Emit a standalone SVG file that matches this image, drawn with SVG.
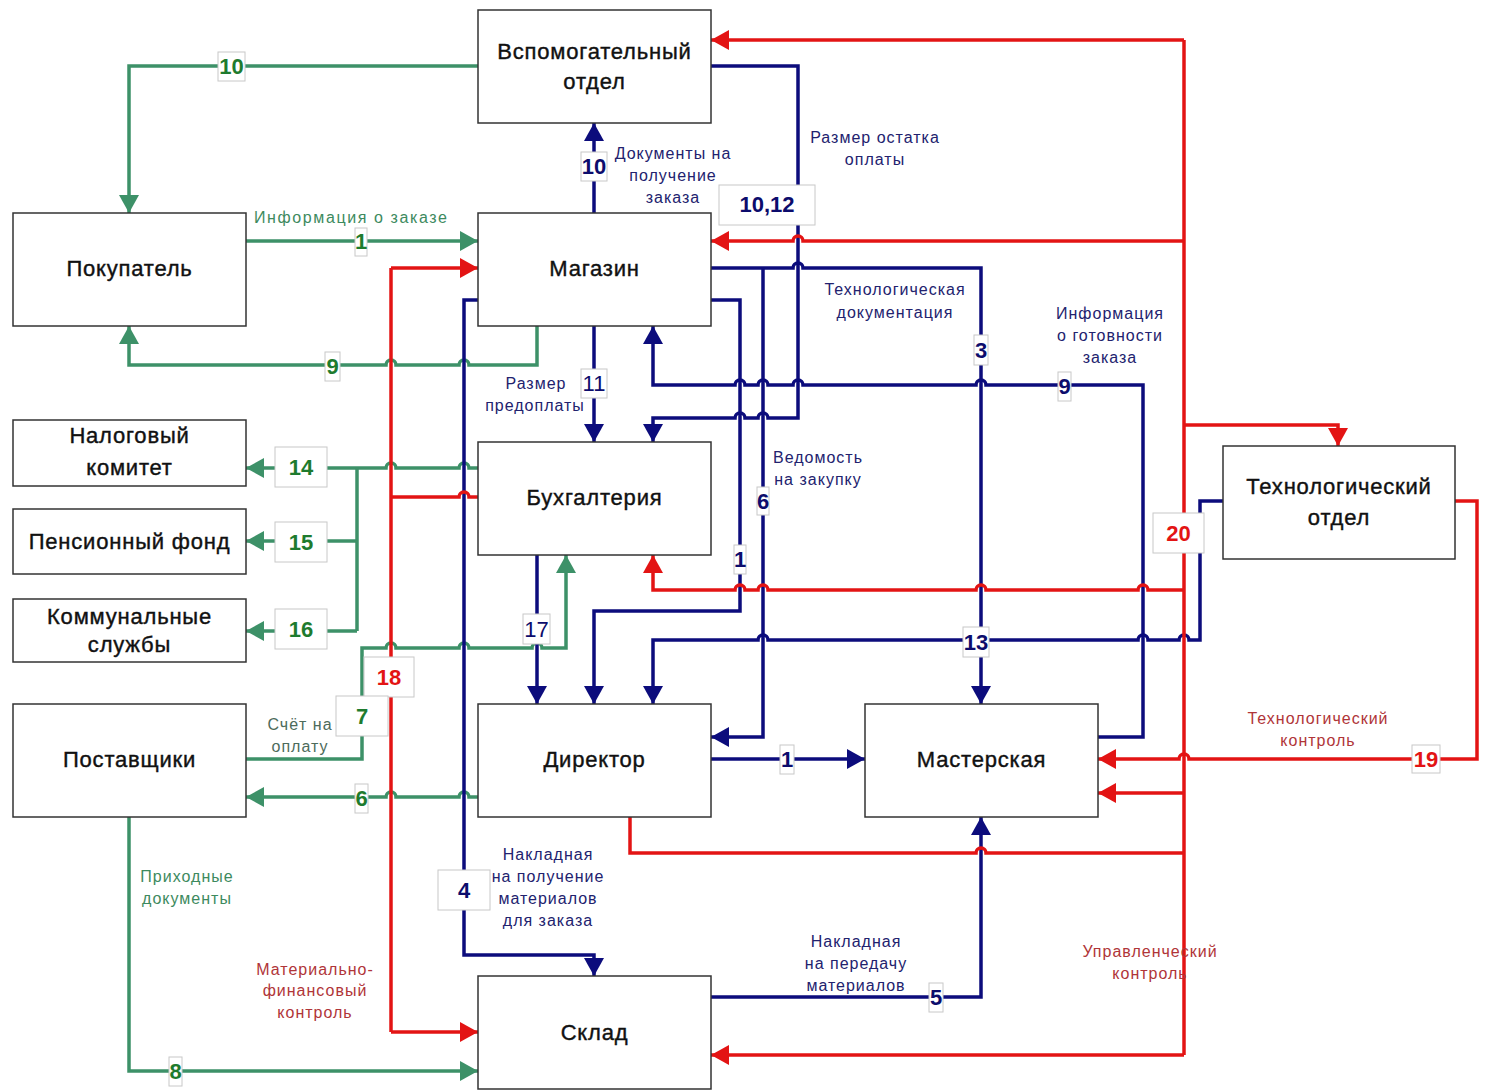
<svg xmlns="http://www.w3.org/2000/svg" width="1486" height="1091" viewBox="0 0 1486 1091">
<style>
.node rect{fill:#fff;stroke:#333;stroke-width:1.5}
.nt{font-family:"Liberation Sans",Arial,sans-serif;font-size:22px;fill:#111;stroke:#111;stroke-width:0.4;text-anchor:middle;letter-spacing:0.8px}
.g{fill:none;stroke:#3d9168;stroke-width:3.5}
.n{fill:none;stroke:#0c0c7c;stroke-width:3.5}
.r{fill:none;stroke:#e31414;stroke-width:3.5}
.lb{fill:#fff;stroke:#c8c8c8;stroke-width:1}
.num{font-family:"Liberation Sans",Arial,sans-serif;font-size:22px;font-weight:bold;text-anchor:middle}
.reg{font-weight:normal}
.ng{fill:#1e7b2e}.nn{fill:#0c0c6c}.nr{fill:#e31414}
.et{font-family:"Liberation Sans",Arial,sans-serif;font-size:16px;text-anchor:middle;letter-spacing:1px}
.etn{fill:#22226e}.etg{fill:#3d8a5e}.etr{fill:#b03538}.ets{fill:#4d6b5b}
</style>
<defs>
<marker id="ag" markerUnits="userSpaceOnUse" markerWidth="18" markerHeight="20" refX="18" refY="10" orient="auto"><path d="M0,0 L18,10 L0,20 z" fill="#3d9168"/></marker>
<marker id="an" markerUnits="userSpaceOnUse" markerWidth="18" markerHeight="20" refX="18" refY="10" orient="auto"><path d="M0,0 L18,10 L0,20 z" fill="#0c0c7c"/></marker>
<marker id="ar" markerUnits="userSpaceOnUse" markerWidth="18" markerHeight="20" refX="18" refY="10" orient="auto"><path d="M0,0 L18,10 L0,20 z" fill="#e31414"/></marker>
</defs>

<g id="connectors">
<!-- green -->
<path class="g" d="M478,66 H129 V213" marker-end="url(#ag)"/>
<path class="g" d="M246,241 H478" marker-end="url(#ag)"/>
<path class="g" d="M537,326 V365 H469 A5,5 0 0 0 459,365 H396 A5,5 0 0 0 386,365 H129 V326" marker-end="url(#ag)"/>
<path class="g" d="M478,468 H469 A5,5 0 0 0 459,468 H396 A5,5 0 0 0 386,468 H246" marker-end="url(#ag)"/>
<path class="g" d="M357,468 V631"/>
<path class="g" d="M357,541 H246" marker-end="url(#ag)"/>
<path class="g" d="M357,631 H246" marker-end="url(#ag)"/>
<path class="g" d="M246,759 H362 V648 H386 A5,5 0 0 1 396,648 H459 A5,5 0 0 1 469,648 H532 A5,5 0 0 1 542,648 H566 V555" marker-end="url(#ag)"/>
<path class="g" d="M478,797 H469 A5,5 0 0 0 459,797 H396 A5,5 0 0 0 386,797 H246" marker-end="url(#ag)"/>
<path class="g" d="M129,817 V1071 H478" marker-end="url(#ag)"/>
<!-- navy -->
<path class="n" d="M594,213 V123" marker-end="url(#an)"/>
<path class="n" d="M711,66 H798 V418 H768 A5,5 0 0 0 758,418 H745 A5,5 0 0 0 735,418 H653 V442" marker-end="url(#an)"/>
<path class="n" d="M594,326 V442" marker-end="url(#an)"/>
<path class="n" d="M711,268 H793 A5,5 0 0 1 803,268 H981 V704" marker-end="url(#an)"/>
<path class="n" d="M711,300 H740 V611 H594 V704" marker-end="url(#an)"/>
<path class="n" d="M763,268 V737 H711" marker-end="url(#an)"/>
<path class="n" d="M1098,737 H1143 V385 H986 A5,5 0 0 0 976,385 H803 A5,5 0 0 0 793,385 H768 A5,5 0 0 0 758,385 H745 A5,5 0 0 0 735,385 H653 V326" marker-end="url(#an)"/>
<path class="n" d="M537,555 V704" marker-end="url(#an)"/>
<path class="n" d="M478,300 H464 V955 H594 V976" marker-end="url(#an)"/>
<path class="n" d="M711,997 H981 V817" marker-end="url(#an)"/>
<path class="n" d="M711,759 H865" marker-end="url(#an)"/>
<path class="n" d="M1223,501 H1200 V640 H1189 A5,5 0 0 0 1179,640 H1148 A5,5 0 0 0 1138,640 H768 A5,5 0 0 0 758,640 H653 V704" marker-end="url(#an)"/>
<!-- red -->
<path class="r" d="M1184,40 V1055"/>
<path class="r" d="M1184,40 H711" marker-end="url(#ar)"/>
<path class="r" d="M1184,241 H803 A5,5 0 0 0 793,241 H711" marker-end="url(#ar)"/>
<path class="r" d="M1184,425 H1338 V446" marker-end="url(#ar)"/>
<path class="r" d="M1184,590 H1148 A5,5 0 0 0 1138,590 H986 A5,5 0 0 0 976,590 H768 A5,5 0 0 0 758,590 H745 A5,5 0 0 0 735,590 H653 V555" marker-end="url(#ar)"/>
<path class="r" d="M1455,501 H1477 V759 H1189 A5,5 0 0 0 1179,759 H1098" marker-end="url(#ar)"/>
<path class="r" d="M630,817 V853 H976 A5,5 0 0 1 986,853 H1184"/>
<path class="r" d="M1184,793 H1098" marker-end="url(#ar)"/>
<path class="r" d="M1184,1055 H711" marker-end="url(#ar)"/>
<path class="r" d="M391,268 V1032"/>
<path class="r" d="M391,268 H478" marker-end="url(#ar)"/>
<path class="r" d="M391,497 H459 A5,5 0 0 1 469,497 H478"/>
<path class="r" d="M391,1032 H478" marker-end="url(#ar)"/>

<!-- label boxes -->
<rect class="lb" x="218" y="52" width="27" height="29"/>
<rect class="lb" x="355" y="228" width="12" height="28"/>
<rect class="lb" x="325" y="352" width="15" height="29"/>
<rect class="lb" x="275" y="447" width="52" height="40"/>
<rect class="lb" x="275" y="522" width="52" height="40"/>
<rect class="lb" x="275" y="609" width="52" height="40"/>
<rect class="lb" x="364" y="657" width="50" height="40"/>
<rect class="lb" x="336" y="696" width="52" height="40"/>
<rect class="lb" x="355" y="784" width="13" height="29"/>
<rect class="lb" x="169" y="1057" width="13" height="29"/>
<rect class="lb" x="581" y="152" width="26" height="29"/>
<rect class="lb" x="719" y="185" width="96" height="40"/>
<rect class="lb" x="581" y="369" width="26" height="29"/>
<rect class="lb" x="974" y="335" width="14" height="30"/>
<rect class="lb" x="1058" y="372" width="13" height="29"/>
<rect class="lb" x="757" y="487" width="12" height="28"/>
<rect class="lb" x="734" y="545" width="12" height="29"/>
<rect class="lb" x="523" y="614" width="27" height="30"/>
<rect class="lb" x="963" y="627" width="26" height="30"/>
<rect class="lb" x="1153" y="513" width="51" height="40"/>
<rect class="lb" x="780" y="745" width="14" height="29"/>
<rect class="lb" x="1412" y="745" width="28" height="28"/>
<rect class="lb" x="438" y="870" width="52" height="40"/>
<rect class="lb" x="929" y="983" width="14" height="29"/>

<!-- numbers -->
<text class="num ng" x="231.5" y="74">10</text>
<text class="num ng" x="361" y="249">1</text>
<text class="num ng" x="332.5" y="374">9</text>
<text class="num ng" x="301" y="475">14</text>
<text class="num ng" x="301" y="550">15</text>
<text class="num ng" x="301" y="637">16</text>
<text class="num nr" x="389" y="685">18</text>
<text class="num ng" x="362" y="724">7</text>
<text class="num ng" x="361.5" y="806">6</text>
<text class="num ng" x="175.5" y="1079">8</text>
<text class="num nn" x="594" y="174">10</text>
<text class="num nn" x="767" y="212">10,12</text>
<text class="num nn reg" x="594" y="391">11</text>
<text class="num nn" x="981" y="358">3</text>
<text class="num nn" x="1064.5" y="394">9</text>
<text class="num nn" x="763" y="509">6</text>
<text class="num nn" x="740" y="567">1</text>
<text class="num nn reg" x="536.5" y="637">17</text>
<text class="num nn" x="976" y="650">13</text>
<text class="num nr" x="1178.5" y="541">20</text>
<text class="num nn" x="787" y="767">1</text>
<text class="num nr" x="1426" y="767">19</text>
<text class="num nn" x="464" y="898">4</text>
<text class="num nn" x="936" y="1005">5</text>

<!-- edge texts -->
<text class="et etg" x="254" y="223" style="text-anchor:start;letter-spacing:1.6px">Информация о заказе</text>
<text class="et etn"><tspan x="673" y="159">Документы на</tspan><tspan x="673" y="181">получение</tspan><tspan x="673" y="203">заказа</tspan></text>
<text class="et etn"><tspan x="875" y="143">Размер остатка</tspan><tspan x="875" y="165">оплаты</tspan></text>
<text class="et etn"><tspan x="895" y="295">Технологическая</tspan><tspan x="895" y="318">документация</tspan></text>
<text class="et etn"><tspan x="1110" y="319">Информация</tspan><tspan x="1110" y="341">о готовности</tspan><tspan x="1110" y="363">заказа</tspan></text>
<text class="et etn"><tspan x="536" y="389">Размер</tspan><tspan x="535" y="411">предоплаты</tspan></text>
<text class="et etn"><tspan x="818" y="463">Ведомость</tspan><tspan x="818" y="485">на закупку</tspan></text>
<text class="et ets"><tspan x="300" y="730">Счёт на</tspan><tspan x="300" y="752">оплату</tspan></text>
<text class="et etr"><tspan x="1318" y="724">Технологический</tspan><tspan x="1318" y="746">контроль</tspan></text>
<text class="et etn"><tspan x="548" y="860">Накладная</tspan><tspan x="548" y="882">на получение</tspan><tspan x="548" y="904">материалов</tspan><tspan x="548" y="926">для заказа</tspan></text>
<text class="et etg"><tspan x="187" y="882">Приходные</tspan><tspan x="187" y="904">документы</tspan></text>
<text class="et etn"><tspan x="856" y="947">Накладная</tspan><tspan x="856" y="969">на передачу</tspan><tspan x="856" y="991">материалов</tspan></text>
<text class="et etr"><tspan x="1150" y="957">Управленческий</tspan><tspan x="1150" y="979">контроль</tspan></text>
<text class="et etr"><tspan x="315" y="975">Материально-</tspan><tspan x="315" y="996">финансовый</tspan><tspan x="315" y="1018">контроль</tspan></text>
</g>

<g id="node-vspom" class="node"><rect x="478" y="10" width="233" height="113"/><text class="nt"><tspan x="594.5" y="59">Вспомогательный</tspan><tspan x="594.5" y="89">отдел</tspan></text></g>
<g id="node-pokupatel" class="node"><rect x="13" y="213" width="233" height="113"/><text class="nt" x="129.5" y="276">Покупатель</text></g>
<g id="node-magazin" class="node"><rect x="478" y="213" width="233" height="113"/><text class="nt" x="594.5" y="276">Магазин</text></g>
<g id="node-nalog" class="node"><rect x="13" y="420" width="233" height="66"/><text class="nt"><tspan x="129.5" y="443">Налоговый</tspan><tspan x="129.5" y="475">комитет</tspan></text></g>
<g id="node-buh" class="node"><rect x="478" y="442" width="233" height="113"/><text class="nt" x="594.5" y="505">Бухгалтерия</text></g>
<g id="node-pension" class="node"><rect x="13" y="509" width="233" height="65"/><text class="nt" x="129.5" y="549">Пенсионный фонд</text></g>
<g id="node-komm" class="node"><rect x="13" y="599" width="233" height="63"/><text class="nt"><tspan x="129.5" y="624">Коммунальные</tspan><tspan x="129.5" y="652">службы</tspan></text></g>
<g id="node-tech" class="node"><rect x="1223" y="446" width="232" height="113"/><text class="nt"><tspan x="1339" y="494">Технологический</tspan><tspan x="1339" y="525">отдел</tspan></text></g>
<g id="node-postav" class="node"><rect x="13" y="704" width="233" height="113"/><text class="nt" x="129.5" y="767">Поставщики</text></g>
<g id="node-director" class="node"><rect x="478" y="704" width="233" height="113"/><text class="nt" x="594.5" y="767">Директор</text></g>
<g id="node-master" class="node"><rect x="865" y="704" width="233" height="113"/><text class="nt" x="981.5" y="767">Мастерская</text></g>
<g id="node-sklad" class="node"><rect x="478" y="976" width="233" height="113"/><text class="nt" x="594.5" y="1040">Склад</text></g>
</svg>
